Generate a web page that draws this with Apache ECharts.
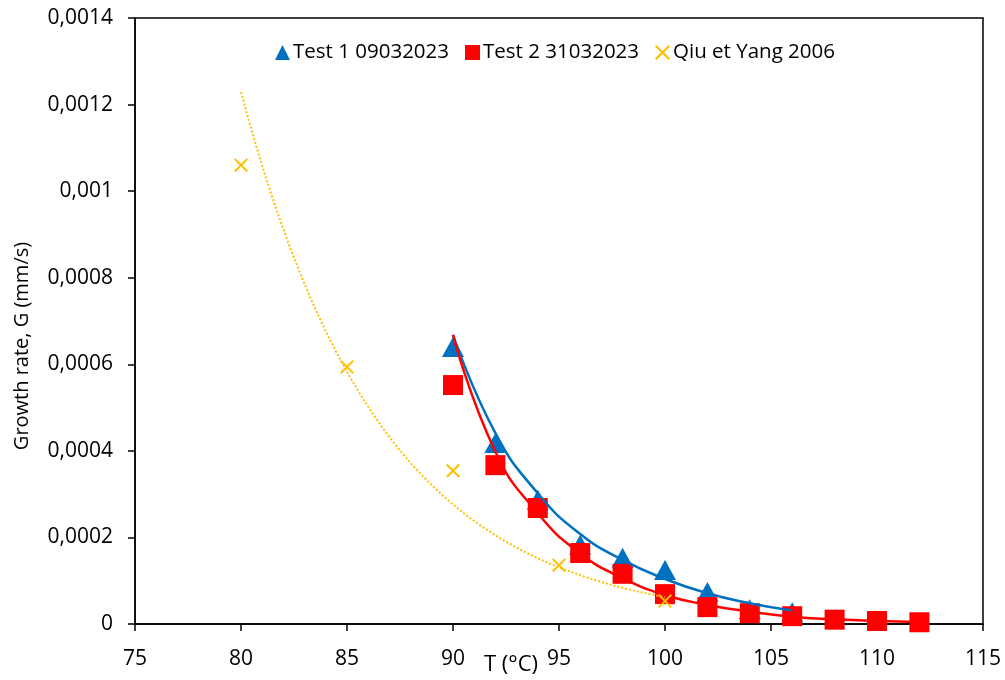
<!DOCTYPE html>
<html>
<head>
<meta charset="utf-8">
<script src="https://cdn.jsdelivr.net/npm/echarts@6/dist/echarts.min.js"></script>
<style>html,body{margin:0;padding:0;background:#fff}#c{width:1005px;height:680px}</style>
</head>
<body>
<div id="c"></div>
<script>
// ---- data ----
const test1T = [90, 92, 94, 96, 98, 100, 102, 104, 106];
const test1G = [0.000640, 0.000418, 0.000287, 0.000183, 0.000153, 0.000125, 0.000074, 0.000034, 0.000027];
const test2T = [90, 92, 94, 96, 98, 100, 102, 104, 106, 108, 110, 112];
const test2G = [0.000552, 0.000367, 0.000268, 0.000164, 0.000116, 0.000069, 0.000039, 0.000025, 0.000018, 0.000010, 0.000007, 0.000004];
const qiuT = [80, 85, 90, 95, 100];
const qiuG = [0.001060, 0.000594, 0.000354, 0.000136, 0.000053];
// fitted curves of the two tests, as drawn in the picture
const fit1T = [90, 92, 94, 96, 98, 100, 102, 104, 106];
const fit1G = [0.000668, 0.000441, 0.000302, 0.000208, 0.000148, 0.000104, 0.000071, 0.000048, 0.000031];
const fit2T = [90, 92, 94, 96, 98, 100, 102, 104, 106, 108, 110, 112];
const fit2G = [0.000668, 0.000398, 0.000256, 0.000163, 0.000106, 0.000067, 0.000044, 0.0000285, 0.0000169, 0.0000108, 0.0000069, 0.0000046];
const seriesNames = ['Test 1 09032023', 'Test 2 31032023', 'Qiu et Yang 2006'];
const xTicks = [75, 80, 85, 90, 95, 100, 105, 110, 115];
const yTickLabels = ['0', '0,0002', '0,0004', '0,0006', '0,0008', '0,001', '0,0012', '0,0014'];

// exponential trendline (least squares on ln G) for the Qiu et Yang points
function expFit(xs, ys) {
  const n = xs.length;
  let sx = 0, sy = 0, sxx = 0, sxy = 0;
  for (let i = 0; i < n; i++) {
    const lx = xs[i], ly = Math.log(ys[i]);
    sx += lx; sy += ly; sxx += lx * lx; sxy += lx * ly;
  }
  const b = (n * sxy - sx * sy) / (n * sxx - sx * sx);
  const a = (sy - b * sx) / n;
  const x0 = xs[0], x1 = xs[n - 1];
  const pts = [];
  const steps = 80;
  for (let i = 0; i <= steps; i++) {
    const x = x0 + (x1 - x0) * i / steps;
    pts.push([x, Math.exp(a + b * x)]);
  }
  return pts;
}
const zip = (a, b) => a.map((v, i) => [v, b[i]]);

const FONT = 'Open Sans';
const crossPath = 'path://M0,1 L1,0 L5,4 L9,0 L10,1 L6,5 L10,9 L9,10 L5,6 L1,10 L0,9 L4,5 Z';

const chart = echarts.init(document.getElementById('c'), null, {renderer: 'canvas'});
chart.setOption({
  animation: false,
  backgroundColor: '#fff',
  textStyle: {fontFamily: FONT},
  grid: {left: 135, top: 18, width: 848, height: 606, show: true, borderColor: '#000', borderWidth: 1.5,
    containLabel: false, outerBoundsMode: 'none'},
  legend: {
    data: seriesNames.map((n, i) => ({name: n, icon: i === 0 ? 'triangle' : (i === 1 ? 'rect' : crossPath)})),
    left: 270, top: 37, itemWidth: 15, itemHeight: 15, itemGap: 16,
    itemStyle: {opacity: 1},
    textStyle: {fontFamily: FONT, fontSize: 20.5, color: '#000', padding: [0, 0, 0, -2]}
  },
  xAxis: {
    type: 'value', min: 75, max: 115, interval: 5,
    name: 'T (°C)', nameLocation: 'middle', nameGap: 30, nameMoveOverlap: false,
    nameTextStyle: {fontFamily: FONT, fontSize: 22, color: '#000', padding: [0, 96, 0, 0]},
    axisLine: {show: true, onZero: false, lineStyle: {color: '#000', width: 1.5}},
    axisTick: {show: true, inside: false, length: 7, lineStyle: {color: '#000', width: 1.5}},
    axisLabel: {fontFamily: FONT, fontSize: 21, color: '#000', margin: 25,
      formatter: v => String(xTicks[Math.round((v - 75) / 5)])},
    splitLine: {show: false}
  },
  yAxis: {
    type: 'value', min: 0, max: 0.0014, interval: 0.0002,
    name: 'Growth rate, G (mm/s)', nameLocation: 'middle', nameGap: 103,
    nameTextStyle: {fontFamily: FONT, fontSize: 20, color: '#000', padding: [0, 50, 0, 0]},
    axisLine: {show: true, lineStyle: {color: '#000', width: 1.5}},
    axisTick: {show: true, inside: false, length: 7, lineStyle: {color: '#000', width: 1.5}},
    axisLabel: {fontFamily: FONT, fontSize: 21, color: '#000', margin: 22,
      formatter: v => yTickLabels[Math.round(v / 0.0002)]},
    splitLine: {show: false}
  },
  series: [
    {name: seriesNames[0], type: 'scatter', data: zip(test1T, test1G), symbol: 'triangle', symbolSize: [22, 20],
      itemStyle: {color: '#0070C0', opacity: 1}, z: 2},
    {name: seriesNames[1], type: 'scatter', data: zip(test2T, test2G), symbol: 'rect', symbolSize: 20,
      itemStyle: {color: '#FF0000', opacity: 1}, z: 3},
    {name: seriesNames[2], type: 'scatter', data: zip(qiuT, qiuG), symbol: crossPath, symbolSize: 14,
      itemStyle: {color: '#FFC000', opacity: 1}, z: 6},
    {name: 'fit1', type: 'line', data: zip(fit1T, fit1G), showSymbol: false, symbol: 'none', smooth: 0.5,
      lineStyle: {color: '#0070C0', width: 2.5}, z: 4, silent: true},
    {name: 'fit2', type: 'line', data: zip(fit2T, fit2G), showSymbol: false, symbol: 'none', smooth: 0.5,
      lineStyle: {color: '#FF0000', width: 2.5}, z: 5, silent: true},
    {name: 'fit3', type: 'line', data: expFit(qiuT, qiuG), showSymbol: false, symbol: 'none',
      lineStyle: {color: '#FFC000', width: 2, type: [2, 2]}, z: 4, silent: true}
  ]
});
</script>
</body>
</html>
